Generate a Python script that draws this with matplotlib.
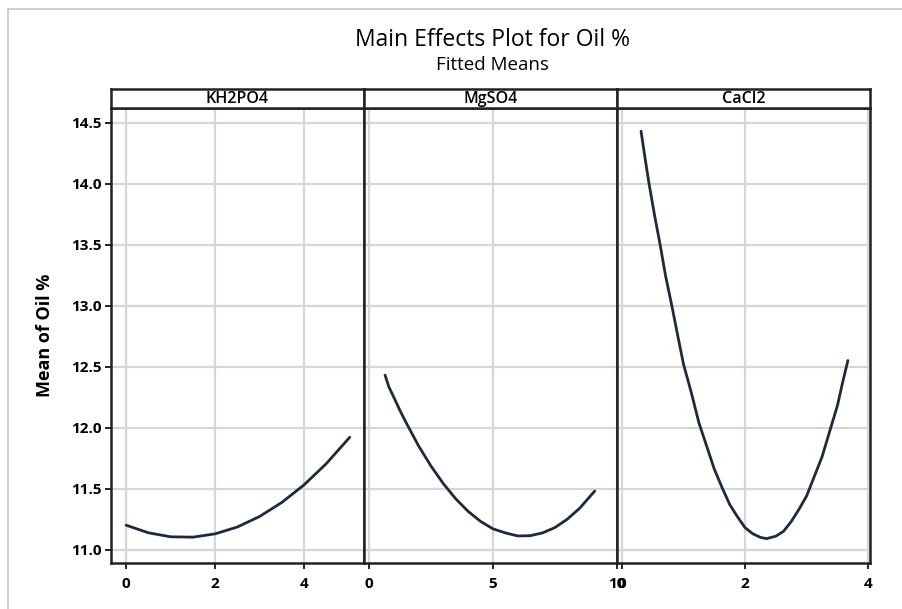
import matplotlib
matplotlib.use("Agg")
import matplotlib.pyplot as plt
from matplotlib.lines import Line2D

plt.rcParams["font.family"] = ["Open Sans", "DejaVu Sans"]

# fitted means
kh2po4_x = [0, 0.5, 1, 1.5, 2, 2.5, 3, 3.5, 4, 4.5, 5.03]
kh2po4_y = [11.20, 11.138, 11.105, 11.102, 11.129, 11.185, 11.271, 11.386, 11.530, 11.704, 11.921]

mgso4_x = [0.65, 0.8, 1, 1.25, 1.5, 2, 2.5, 3, 3.5, 4, 4.5, 5, 5.5, 6, 6.5, 7, 7.5, 8, 8.5, 9.1]
mgso4_y = [12.43, 12.335, 12.25, 12.14, 12.04, 11.85, 11.685, 11.54, 11.416, 11.313, 11.231, 11.17,
           11.137, 11.112, 11.114, 11.137, 11.181, 11.25, 11.34, 11.48]

cacl2_x = [0.31, 0.375, 0.44, 0.53, 0.62, 0.71, 0.81, 0.9, 1.0, 1.125, 1.25, 1.375, 1.5, 1.625,
           1.75, 1.875, 2.0, 2.125, 2.25, 2.35, 2.5, 2.625, 2.75, 2.875, 3.0, 3.125, 3.25,
           3.375, 3.5, 3.58, 3.67]
cacl2_y = [14.43, 14.21, 14.0, 13.74, 13.5, 13.24, 13.0, 12.77, 12.52, 12.29, 12.04, 11.85,
           11.66, 11.51, 11.37, 11.27, 11.18, 11.13, 11.10, 11.09, 11.11, 11.15, 11.23, 11.33,
           11.44, 11.60, 11.76, 11.97, 12.18, 12.36, 12.55]

factors = ["KH2PO4", "MgSO4", "CaCl2"]
xs = [kh2po4_x, mgso4_x, cacl2_x]
ys = [kh2po4_y, mgso4_y, cacl2_y]
xlims = [(-0.34, 5.35), (-0.2, 10.0), (-0.08, 4.03)]
xticks = [[0, 2, 4], [0, 5, 10], [0, 2, 4]]
yticks = [11.0, 11.5, 12.0, 12.5, 13.0, 13.5, 14.0, 14.5]

fig = plt.figure(figsize=(9.03, 6.09), dpi=100)

left, width = 0.1229, 0.2802
bottom, height = 0.0755, 0.7472
strip_h = 0.0312

for i, name in enumerate(factors):
    ax = fig.add_axes([left + i * width, bottom, width, height])
    ax.plot(xs[i], ys[i], color="#1c2b3b", lw=2.0, solid_capstyle="round",
            solid_joinstyle="round")
    ax.set_xlim(*xlims[i])
    ax.set_ylim(10.89, 14.62)
    ax.set_xticks(xticks[i])
    ax.set_yticks(yticks)
    ax.grid(True, color="#d6d6d6", lw=1.6)
    ax.set_axisbelow(True)
    for s in ax.spines.values():
        s.set_linewidth(1.8)
        s.set_color("#222222")
    ax.tick_params(axis="x", length=4, width=1.2, labelsize=11, pad=6)
    for lbl in ax.get_xticklabels():
        lbl.set_fontweight("bold")
    if i == 0:
        ax.set_yticklabels([f"{v:.1f}" for v in yticks], fontweight="bold")
        ax.tick_params(axis="y", length=4, width=1.2, labelsize=11, pad=3)
        ax.set_ylabel("Mean of Oil %", fontsize=13, fontweight="bold", labelpad=12)
    else:
        ax.tick_params(axis="y", length=0, labelleft=False)

    # factor header strip
    sax = fig.add_axes([left + i * width, bottom + height, width, strip_h])
    sax.set_xticks([])
    sax.set_yticks([])
    for s in sax.spines.values():
        s.set_linewidth(1.8)
        s.set_color("#222222")
    sax.text(0.5, 0.45, name, ha="center", va="center", fontsize=11.5,
             fontweight="semibold", transform=sax.transAxes)

fig.text(0.545, 0.935, "Main Effects Plot for Oil %", ha="center", va="center",
         fontsize=16.5, fontweight="medium")
fig.text(0.545, 0.893, "Fitted Means", ha="center", va="center", fontsize=13.5,
         fontweight="medium")

# thin frame lines along the left and top edges
fig.add_artist(Line2D([0.009, 0.009], [0.0, 0.985], color="#c8c8c8", lw=1.2))
fig.add_artist(Line2D([0.009, 1.0], [0.985, 0.985], color="#c8c8c8", lw=1.2))

fig.savefig("out.png", dpi=100, facecolor="white")
